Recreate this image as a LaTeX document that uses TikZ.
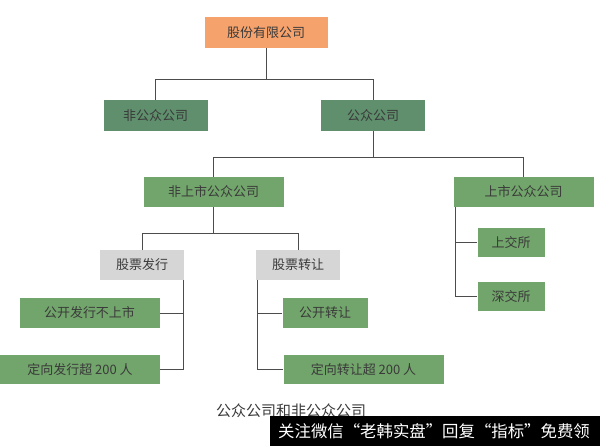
\documentclass[tikz,border=0pt]{standalone}
\usepackage{fontspec}
\setmainfont{Noto Sans CJK SC}
\usepackage{xcolor}
\usetikzlibrary{positioning}

\definecolor{orangebox}{HTML}{F5A26C}
\definecolor{darkgreen}{HTML}{5F8F6C}
\definecolor{midgreen}{HTML}{72A56B}
\definecolor{graybox}{HTML}{D6D6D6}
\definecolor{textgray}{HTML}{3A3A3A}

\begin{document}
\begin{tikzpicture}
  [
    x=1pt, y=-1pt,
    Box/.style={rectangle, inner sep=0pt, text=textgray, font=\fontsize{13}{14}\selectfont},
    Orange/.style={Box, fill=orangebox, minimum width=123pt, minimum height=31pt},
    Dark/.style={Box, fill=darkgreen, minimum width=104pt, minimum height=31pt},
    Green/.style={Box, fill=midgreen},
    Gray/.style={Box, fill=graybox, minimum width=84pt, minimum height=30pt},
    Link/.style={draw=black!70, line width=0.9pt}
  ]
  \useasboundingbox (0,0) rectangle (600,446);

  % Nodes
  \node[Orange] (gf) at (266, 32.5) {股份有限公司};
  \node[Dark] (fgz) at (155.5, 115.5) {非公众公司};
  \node[Dark] (gz) at (373, 115.5) {公众公司};
  \node[Green, minimum width=140pt, minimum height=30pt] (fss) at (213.5, 192) {非上市公众公司};
  \node[Green, minimum width=140pt, minimum height=30pt] (ss) at (523.5, 192) {上市公众公司};
  \node[Gray] (fx) at (142, 265) {股票发行};
  \node[Gray] (zr) at (298, 265) {股票转让};
  \node[Green, minimum width=140pt, minimum height=30pt] (gkfx) at (89.5, 313) {公开发行不上市};
  \node[Green, minimum width=160pt, minimum height=29pt] (dxfx) at (80, 369.5) {定向发行超 200 人};
  \node[Green, minimum width=85pt, minimum height=30pt] (gkzr) at (325, 313) {公开转让};
  \node[Green, minimum width=160pt, minimum height=29pt] (dxzr) at (363.5, 369.5) {定向转让超 200 人};
  \node[Green, minimum width=67pt, minimum height=29pt] (sjs) at (511, 242.5) {上交所};
  \node[Green, minimum width=67pt, minimum height=29pt] (szs) at (511, 296.5) {深交所};

  % Caption and band
  \node[text=textgray, font=\fontsize{15}{16}\selectfont] (cap) at (291, 411) {公众公司和非公众公司};
  \fill[black] (270,416) rectangle (600,446);
  \node[text=white, font=\fontsize{16.4}{17}\selectfont, anchor=west, inner sep=0pt] (wm) at (278, 431) {关注微信“老韩实盘”回复“指标”免费领};

  % Lines
  \path[Link] (gf.south) -- ++(0,31) -| (fgz.north);
  \path[Link] (gf.south) -- ++(0,31) -| (gz.north);
  \path[Link] (gz.south) -- ++(0,26) -| (fss.north);
  \path[Link] (gz.south) -- ++(0,26) -| (ss.north);
  \path[Link] (fss.south) -- ++(0,26) -| (fx.north);
  \path[Link] (fss.south) -- ++(0,26) -| (zr.north);
  \path[Link] ([xshift=-1pt]fx.south east) |- (gkfx.east);
  \path[Link] ([xshift=-1pt]fx.south east) |- (dxfx.east);
  \path[Link] ([xshift=2pt]zr.south west) |- (gkzr.west);
  \path[Link] ([xshift=2pt]zr.south west) |- (dxzr.west);
  \path[Link] ([xshift=2pt]ss.south west) |- (sjs.west);
  \path[Link] ([xshift=2pt]ss.south west) |- (szs.west);

\end{tikzpicture}
\end{document}
